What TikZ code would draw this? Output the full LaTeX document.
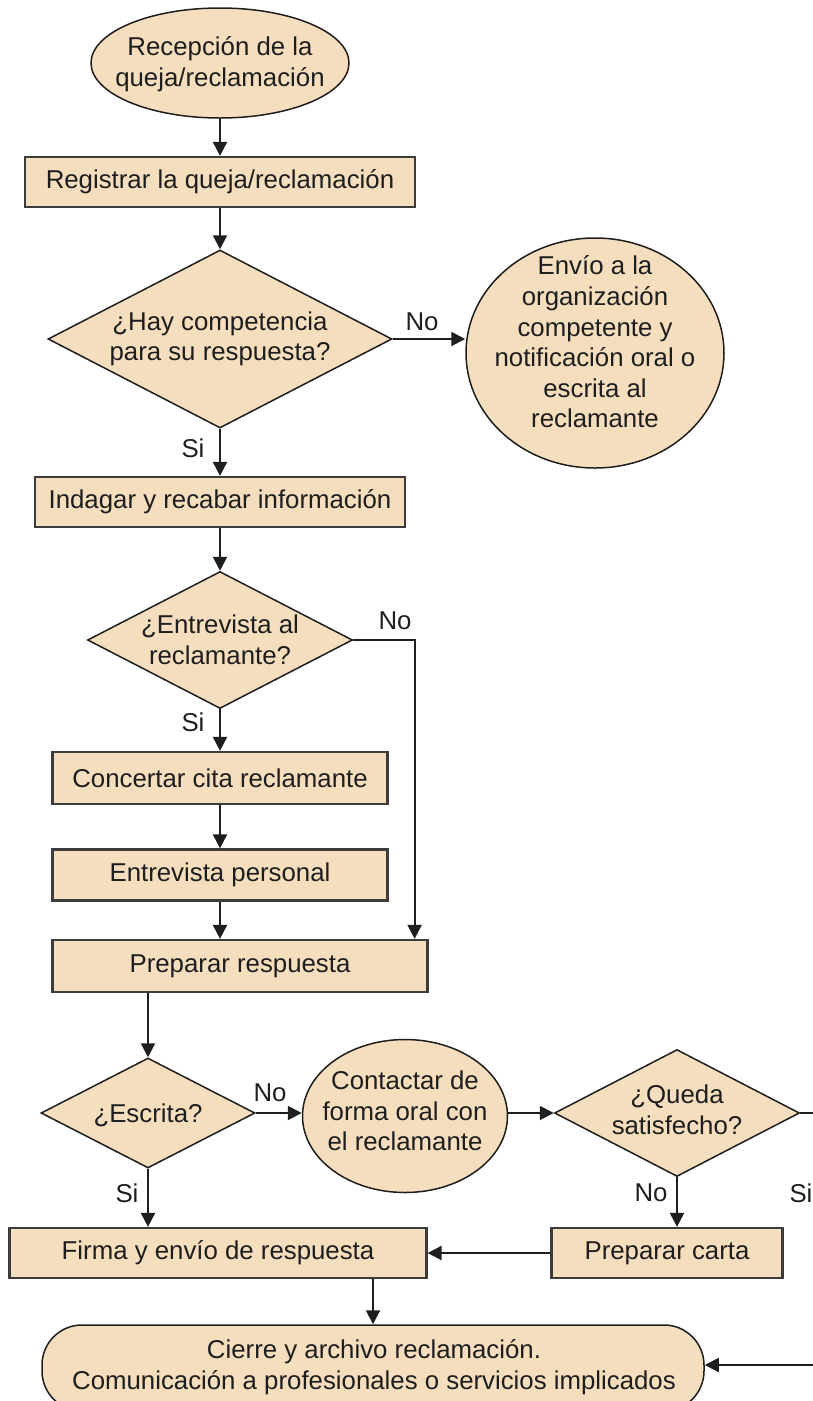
\documentclass[tikz,border=0pt]{standalone}
\usepackage{fontspec}
\setmainfont{Liberation Sans}
\usetikzlibrary{shapes.geometric,arrows.meta}
\definecolor{boxfill}{HTML}{F5DEBE}
\definecolor{boxline}{HTML}{3C3C3C}
\definecolor{ink}{HTML}{1E1E1E}
\begin{document}
\begin{tikzpicture}[x=1pt,y=-1pt,
  every node/.style={font=\fontsize{25.8}{30.6}\selectfont, text=ink},
  procbox/.style={draw=boxline, line width=2.2pt, fill=boxfill, rectangle,
    inner sep=0pt, align=center},
  decision/.style={draw=ink, line width=1.5pt, fill=boxfill, diamond,
    inner sep=0pt, align=center},
  oval/.style={draw=ink, line width=1.5pt, fill=boxfill, ellipse, inner sep=0pt},
  terminal/.style={draw=ink, line width=1.5pt, fill=boxfill, rectangle,
    rounded corners=40pt, inner sep=0pt},
  ovaltext/.style={align=center, inner sep=0pt},
  answer/.style={inner sep=0pt},
  arr/.style={draw=ink, line width=2pt, -{Triangle[length=14pt,width=14pt]}},
  flow/.style={draw=ink, line width=2pt}]
\useasboundingbox (0,0) rectangle (813,1401);
\clip (0,0) rectangle (813,1401);

% --- shapes ---
\node[oval, minimum width=258pt, minimum height=110pt] (rec) at (220,63) {};
\node[ovaltext] (rec-t) at (220,64) {Recepción de la\\queja/reclamación};

\node[procbox, minimum width=390pt, minimum height=50pt] (reg) at (220,182)
  {Registrar la queja/reclamación};

\node[decision, minimum width=344pt, minimum height=178pt] (comp) at (220,339) {};
\node[ovaltext] (comp-t) at (comp.center) {¿Hay competencia\\para su respuesta?};

\node[oval, minimum width=258pt, minimum height=230pt] (envio) at (595,353) {};
\node[ovaltext] (envio-t) at (595,342)
  {Envío a la\\organización\\competente y\\notificación oral o\\escrita al\\reclamante};

\node[procbox, minimum width=370pt, minimum height=50pt] (indagar) at (220,502)
  {Indagar y recabar información};

\node[decision, minimum width=265pt, minimum height=137pt] (entrev) at (220,640) {};
\node[ovaltext] (entrev-t) at (entrev.center) {¿Entrevista al\\reclamante?};

\node[procbox, minimum width=335pt, minimum height=52pt] (cita) at (220,778)
  {Concertar cita reclamante};

\node[procbox, minimum width=335pt, minimum height=51pt] (personal) at (220,875)
  {Entrevista personal};

\node[procbox, minimum width=375pt, minimum height=52pt] (prep) at (240,966)
  {Preparar respuesta};

\node[decision, minimum width=214pt, minimum height=110pt] (escrita) at (148,1113) {};
\node[ovaltext] (escrita-t) at (148,1115) {¿Escrita?};

\node[oval, minimum width=205pt, minimum height=153pt] (contactar) at (405,1116) {};
\node[ovaltext] (contactar-t) at (405,1111)
  {Contactar de\\forma oral con\\el reclamante};

\node[decision, minimum width=245pt, minimum height=127pt] (queda) at (677,1113) {};
\node[ovaltext] (queda-t) at (677,1110) {¿Queda\\satisfecho?};

\node[procbox, minimum width=231pt, minimum height=50pt] (carta) at (667,1253)
  {Preparar carta};

\node[procbox, minimum width=417pt, minimum height=50pt] (firma) at (218,1253)
  {Firma y envío de respuesta};

\node[terminal, minimum width=662pt, minimum height=86pt] (cierre) at (373,1368) {};
\node[ovaltext] (cierre-t) at (374,1367)
  {Cierre y archivo reclamación.\\Comunicación a profesionales o servicios implicados};

% --- connectors ---
\draw[arr] (rec.south) -- (reg.north);
\draw[arr] (reg.south) -- (comp.north);
\draw[arr] (comp.east) -- (comp.east -| envio.west);
\draw[arr] (comp.south) -- (indagar.north);
\draw[arr] (indagar.south) -- (entrev.north);
\draw[arr] (entrev.east) -| ([xshift=-14pt]prep.north east);
\draw[arr] (entrev.south) -- (cita.north);
\draw[arr] (cita.south) -- (personal.north);
\draw[arr] (personal.south) -- (personal.south |- prep.north);
\draw[arr] (escrita.north |- prep.south) -- (escrita.north);
\draw[arr] (escrita.east) -- (escrita.east -| contactar.west);
\draw[arr] (queda.west -| contactar.east) -- (queda.west);
\draw[arr] (queda.south) -- (queda.south |- carta.north);
\draw[arr] (carta.west) -- (firma.east);
\draw[arr] (escrita.south) -- (escrita.south |- firma.north);
\draw[arr] (cierre.north |- firma.south) -- (cierre.north);

% satisfied branch leaves on the right and returns to the closing step
\coordinate (loop-top) at (840,1113);
\coordinate (loop-bot) at (840,1365);
\draw[flow] (queda.east) -- (loop-top) -- (loop-bot);
\draw[arr] (loop-bot) -- (loop-bot -| cierre.east);

% --- branch answers ---
\node[answer] (a-comp-no) at (422,322) {No};
\node[answer] (a-comp-si) at (193,448) {Si};
\node[answer] (a-entrev-no) at (395,621) {No};
\node[answer] (a-entrev-si) at (193,722) {Si};
\node[answer] (a-escrita-no) at (270,1093) {No};
\node[answer] (a-escrita-si) at (127,1193) {Si};
\node[answer] (a-queda-no) at (651,1193) {No};
\node[answer] (a-queda-si) at (801,1193) {Si};
\end{tikzpicture}
\end{document}
